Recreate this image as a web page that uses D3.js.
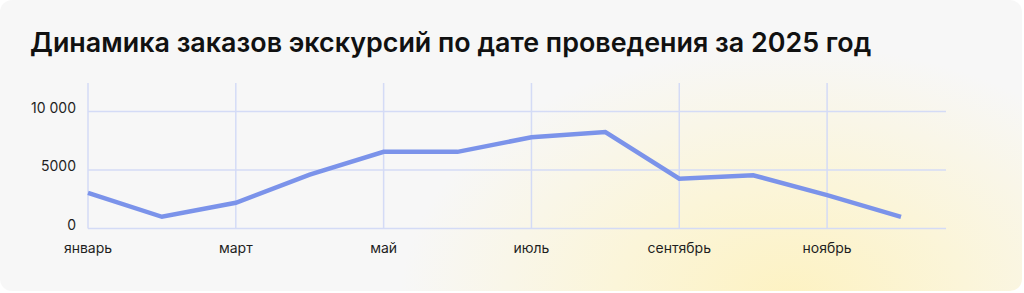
<!DOCTYPE html>
<html>
<head>
<meta charset="utf-8">
<script src="https://cdn.jsdelivr.net/npm/d3@7"></script>
<style>
  body { margin: 0; background: #ffffff; }
  svg { display: block; font-family: Inter, "Noto Sans", sans-serif; }
</style>
</head>
<body>
<svg width="1024" height="293"></svg>
<script>
const months = ["январь", "февраль", "март", "апрель", "май", "июнь",
  "июль", "август", "сентябрь", "октябрь", "ноябрь", "декабрь"];
const orders = [3050, 1000, 2200, 4600, 6550, 6550, 7800, 8250, 4250, 4550, 2850, 1000];
const yTicks = [0, 5000, 10000];
const shownMonths = ["январь", "март", "май", "июль", "сентябрь", "ноябрь"];
const title = "Динамика заказов экскурсий по дате проведения за 2025 год";

function main() {
  var svg = d3.select("svg"),
    width = +svg.attr("width"),
    height = +svg.attr("height");

  var defs = svg.append("defs");
  var grad = defs.append("radialGradient")
    .attr("id", "glow")
    .attr("gradientUnits", "userSpaceOnUse")
    .attr("cx", 790).attr("cy", 300).attr("r", 300)
    .attr("gradientTransform", "translate(790,300) scale(1.3,0.85) translate(-790,-300)");
  grad.append("stop").attr("offset", 0).attr("stop-color", "#fdf2c2");
  grad.append("stop").attr("offset", 0.45).attr("stop-color", "#fbf5d9");
  grad.append("stop").attr("offset", 1).attr("stop-color", "#f7f7f7");

  svg.append("rect")
    .attr("x", 0).attr("y", 0)
    .attr("width", 1022).attr("height", 291)
    .attr("rx", 12)
    .attr("fill", "url(#glow)");

  var x = d3.scalePoint().domain(months).range([88, 901]);
  var y = d3.scaleLinear().domain([0, 10000]).range([228.5, 111.5]);
  var gridRight = 946, gridTop = 83;

  var grid = svg.append("g").attr("stroke", "#d4dbf6").attr("stroke-width", 1.5);
  grid.selectAll(".h")
    .data(yTicks)
    .enter()
    .append("line")
    .attr("x1", x(months[0])).attr("x2", gridRight)
    .attr("y1", (d) => y(d)).attr("y2", (d) => y(d));
  grid.selectAll(".v")
    .data(shownMonths)
    .enter()
    .append("line")
    .attr("x1", (d) => x(d)).attr("x2", (d) => x(d))
    .attr("y1", gridTop).attr("y2", y(0));

  svg.append("g")
    .selectAll("text")
    .data(yTicks)
    .enter()
    .append("text")
    .attr("x", 76)
    .attr("y", (d) => y(d) + 1)
    .attr("text-anchor", "end")
    .attr("font-size", 14)
    .attr("fill", "#1f1f1f")
    .text((d) => d >= 10000 ? d3.format(",")(d).replace(",", " ") : d);

  svg.append("g")
    .selectAll("text")
    .data(shownMonths)
    .enter()
    .append("text")
    .attr("x", (d) => x(d))
    .attr("y", 253)
    .attr("text-anchor", "middle")
    .attr("font-size", 14)
    .attr("fill", "#1f1f1f")
    .text((d) => d);

  var line = d3.line()
    .x((d, i) => x(months[i]))
    .y((d) => y(d));

  svg.append("path")
    .datum(orders)
    .attr("d", line)
    .attr("fill", "none")
    .attr("stroke", "#7b93ea")
    .attr("stroke-width", 4.5);

  var t = svg.append("text")
    .attr("x", 30)
    .attr("y", 52)
    .attr("font-size", 28)
    .attr("font-weight", 600)
    .attr("fill", "#111")
    .text(title);
  var w = t.node().getComputedTextLength();
  t.attr("font-size", 28 * 842 / w);
}

main();
</script>
</body>
</html>
